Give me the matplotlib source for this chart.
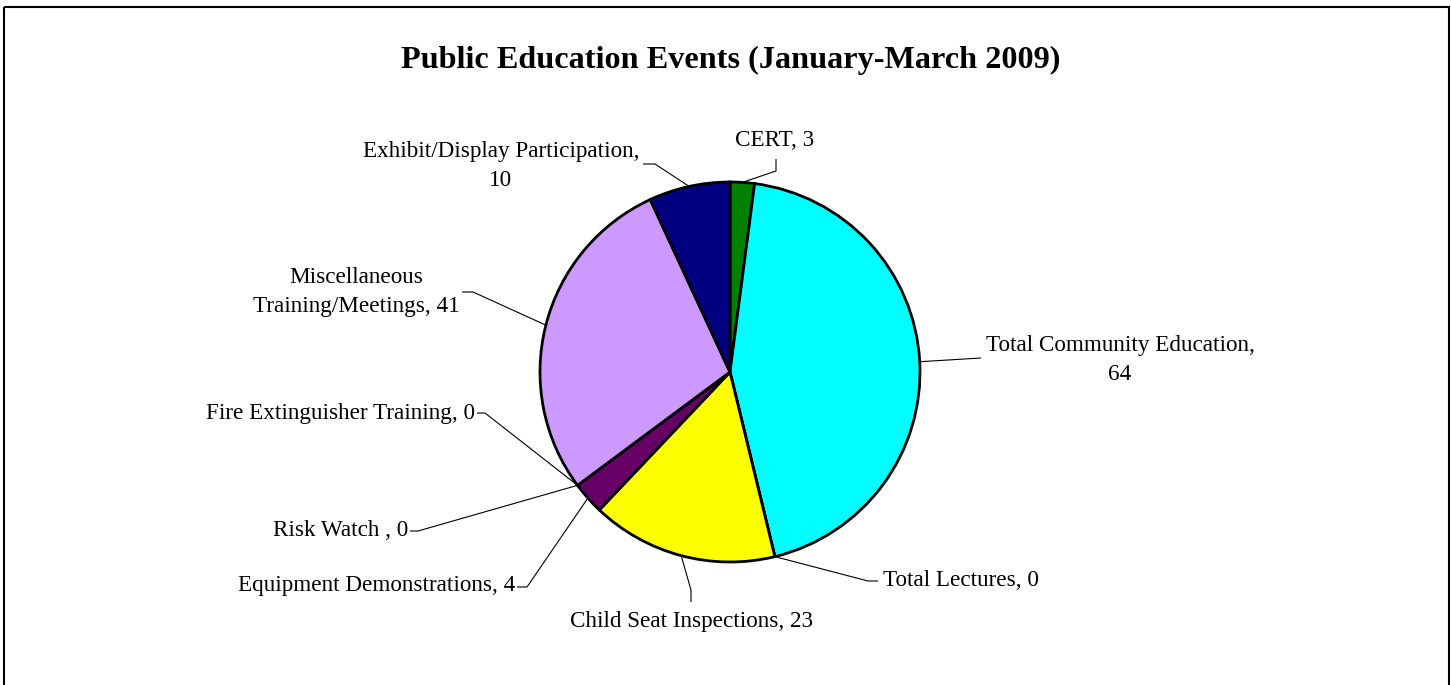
"""
Pie chart of public education events, Jan-Mar 2009 (Excel-style look).
"""
import numpy as np
import matplotlib
matplotlib.use("Agg")
import matplotlib.pyplot as plt
from matplotlib.patches import Rectangle

plt.rcParams["font.family"] = ["Liberation Serif", "DejaVu Serif"]

# --- data (clockwise from 12 o'clock) ---
labels = [
    "CERT, 3",
    "Total Community Education,\n64",
    "Total Lectures, 0",
    "Child Seat Inspections, 23",
    "Equipment Demonstrations, 4",
    "Risk Watch , 0",
    "Fire Extinguisher Training, 0",
    "Miscellaneous\nTraining/Meetings, 41",
    "Exhibit/Display Participation,\n10",
]
values = [3, 64, 0, 23, 4, 0, 0, 41, 10]
colors = ["#008000", "#00FFFF", "#FF00FF", "#FFFF00", "#660066",
          "#3366FF", "#FF8080", "#CC99FF", "#000080"]

# --- layout (pixel coords, y down) ---
W, H = 1451, 685
CX, CY, R = 730, 372, 190
# per label: (text x, text y, ha, elbow points after the anchor on the rim)
label_layout = [
    (775, 140, "center", [(776, 171), (776, 159)]),
    (1120, 360, "center", [(981, 358)]),
    (883, 580, "left", [(868, 581), (878, 581)]),
    (692, 621, "center", [(691, 590), (691, 602)]),
    (515, 585, "right", [(527, 587), (517, 587)]),
    (408, 530, "right", [(418, 531), (410, 531)]),
    (475, 413, "right", [(485, 413), (477, 413)]),
    (356, 292, "center", [(473, 292), (462, 292)]),
    (501, 166, "center", [(655, 164), (643, 164)]),
]

fig = plt.figure(figsize=(W / 100, H / 100), dpi=100)
ax = fig.add_axes([0, 0, 1, 1])

# y axis inverted -> data-counterclockwise draws clockwise on screen
wedges, _ = ax.pie(values, colors=colors, startangle=-90, counterclock=True,
                   center=(CX, CY), radius=R, frame=True,
                   wedgeprops=dict(edgecolor="black", linewidth=2.0))
ax.set_xlim(0, W)
ax.set_ylim(H, 0)
ax.set_aspect("equal")
ax.axis("off")

# leader lines start on the rim at each wedge's mid-angle
total = float(sum(values))
cum = np.cumsum([0] + values)
for i, (tx, ty, ha, elbow) in enumerate(label_layout):
    mid = (cum[i] + values[i] / 2) / total * 2 * np.pi
    ax0 = CX + R * np.sin(mid)
    ay0 = CY - R * np.cos(mid)
    xs = [ax0] + [p[0] for p in elbow]
    ys = [ay0] + [p[1] for p in elbow]
    ax.plot(xs, ys, color="black", linewidth=0.8, solid_capstyle="butt")
    ax.text(tx, ty, labels[i], ha=ha, va="center", fontsize=16.7,
            linespacing=1.55, multialignment="center")

ax.text(731, 60, "Public Education Events (January-March 2009)",
        ha="center", va="center", fontsize=23.2, fontweight="bold")

# chart-area border
ax.add_patch(Rectangle((4, 7), 1445, 700, fill=False, edgecolor="black",
                       linewidth=1.5, clip_on=False))

fig.savefig("out.png", dpi=100)
